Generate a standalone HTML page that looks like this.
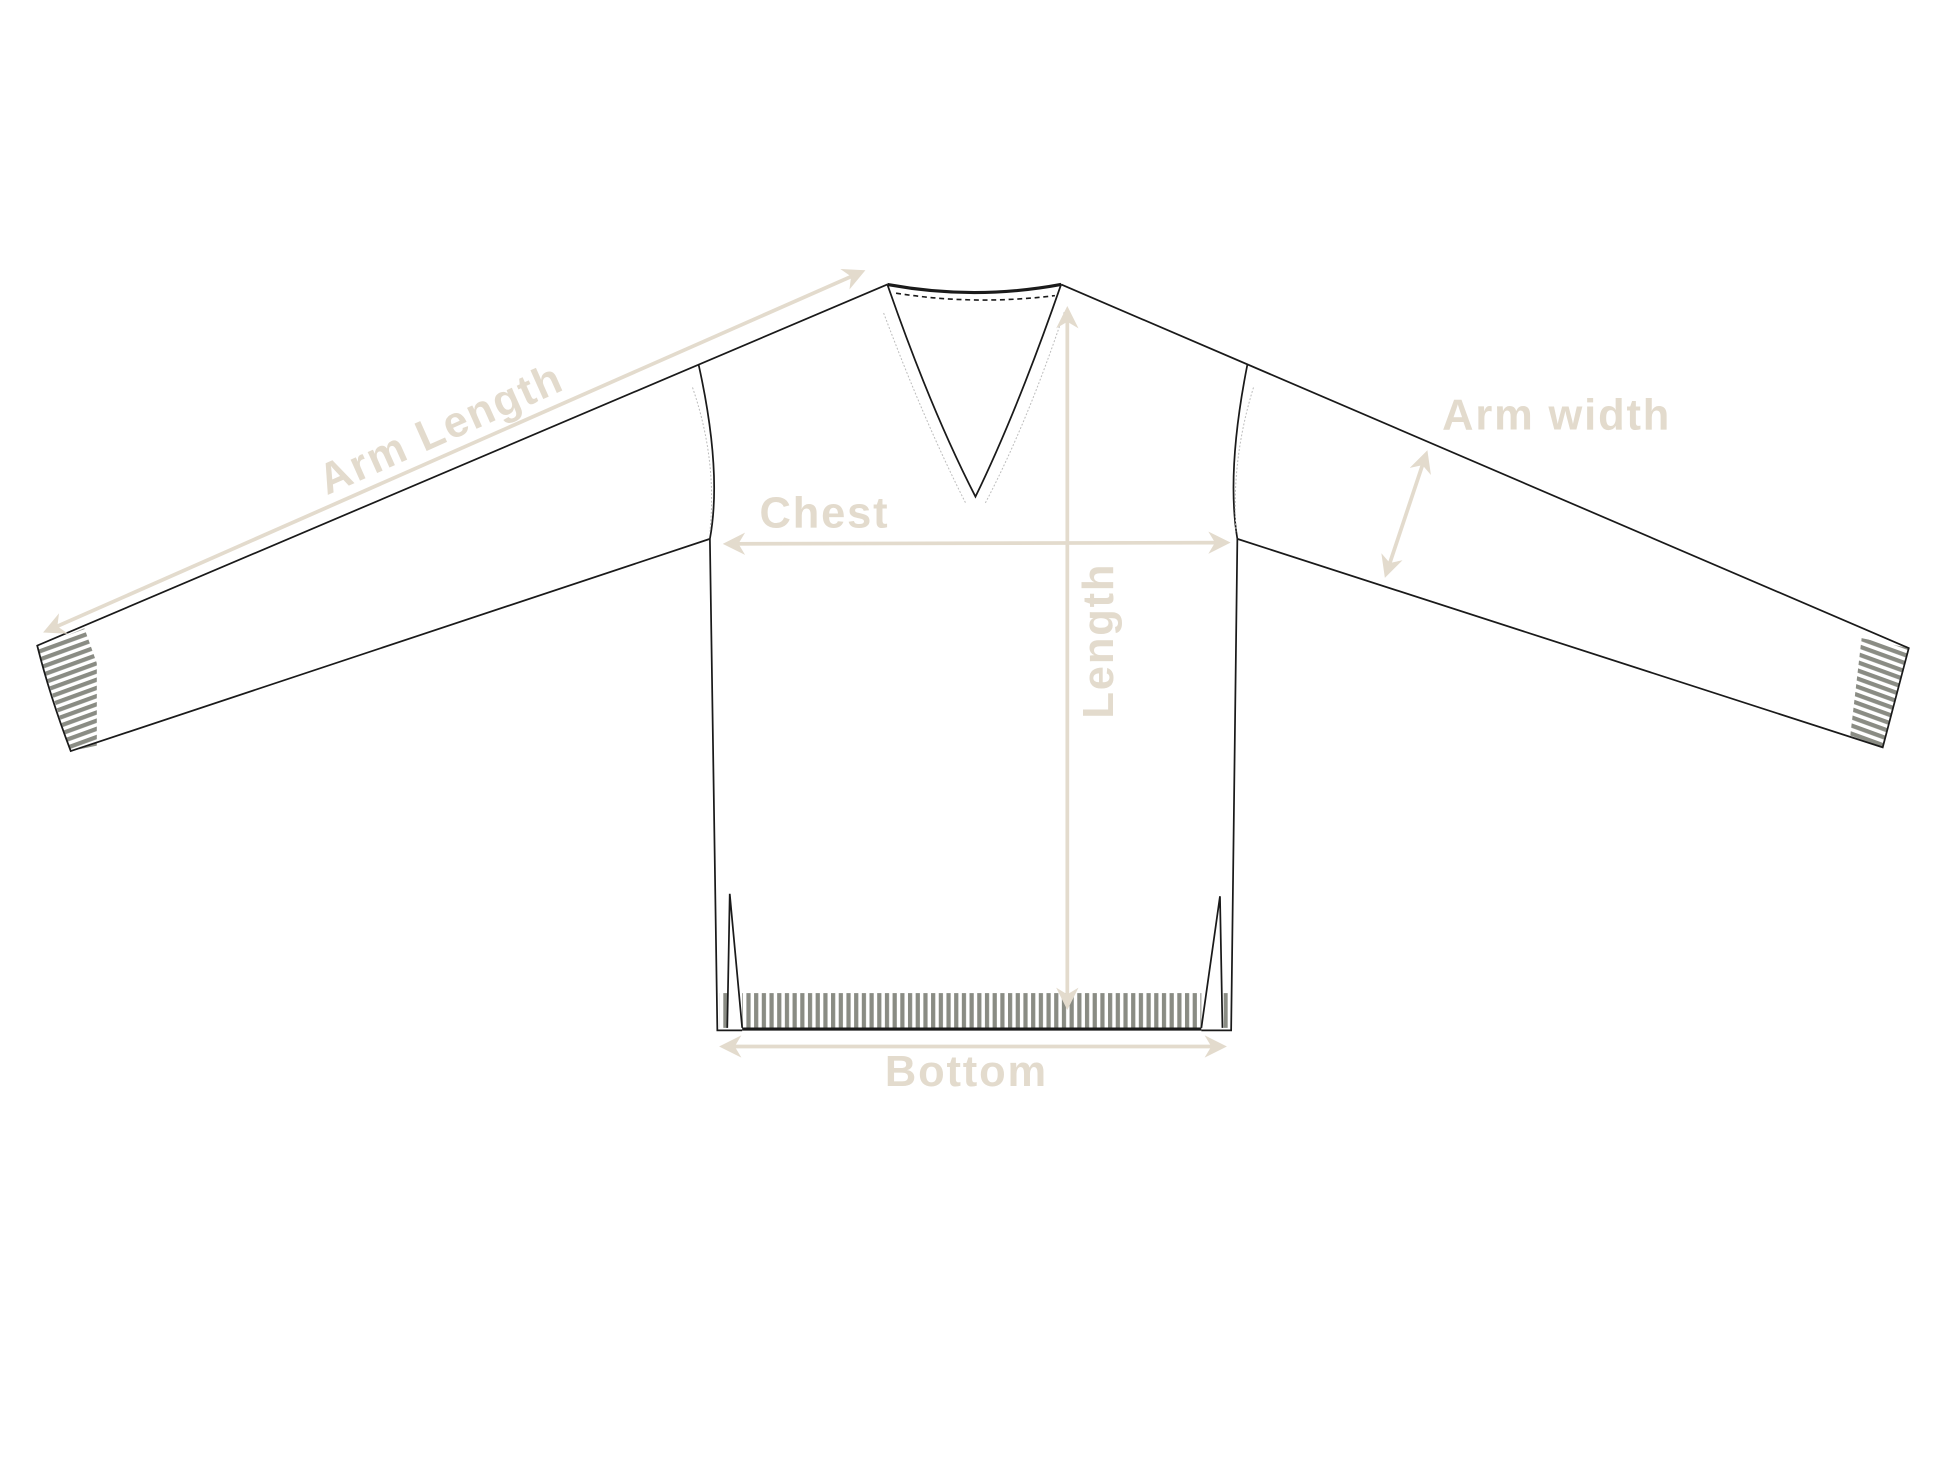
<!DOCTYPE html>
<html><head><meta charset="utf-8"><style>
html,body{margin:0;padding:0;background:#fff;}
svg{display:block;}
text{font-family:"Liberation Sans",sans-serif;font-weight:bold;fill:#e3dbcd;letter-spacing:1.5px;}
</style></head><body>
<svg width="1946" height="1460" viewBox="0 0 1568 1176" xmlns="http://www.w3.org/2000/svg">
<defs>
<pattern id="vs" width="6.2" height="10" patternUnits="userSpaceOnUse"><rect x="0" y="0" width="3.4" height="10" fill="#8a8c84"/></pattern>
<pattern id="hsl" width="10" height="6.2" patternUnits="userSpaceOnUse" patternTransform="rotate(-20)"><rect x="0" y="0" width="10" height="3.4" fill="#8a8c84"/></pattern>
<pattern id="hsr" width="10" height="6.2" patternUnits="userSpaceOnUse" patternTransform="rotate(20)"><rect x="0" y="0" width="10" height="3.4" fill="#8a8c84"/></pattern>
<marker id="ah" viewBox="0 0 10 10" refX="8" refY="5" markerWidth="6" markerHeight="6" orient="auto-start-reverse"><path d="M0,0 L10,5 L0,10 L3,5 Z" fill="#e3dbcd"/></marker>
</defs>
<polygon points="30,522 68,506 100,596 57,605" fill="url(#hsl)"/>
<polygon points="1500,514 1538,522 1517,602 1486,593" fill="url(#hsr)"/>
<polygon points="68,506 110,490 110,620 78,620 78,506" fill="#fff"/>
<polygon points="1500,514 1480,500 1470,600 1490,600" fill="#fff"/>
<rect x="598" y="800" width="370" height="28" fill="url(#vs)"/>
<rect x="580" y="800" width="6" height="28" fill="url(#vs)"/>
<rect x="986" y="800" width="6" height="28" fill="url(#vs)"/>
<g fill="none" stroke="#1a1a1a" stroke-width="1.4">
<path d="M715,229 L30,520 Q40,560 57,605 L572,434"/>
<path d="M855,229 L1538,522 Q1528,560 1517,602 L997,434"/>
<path d="M563,294 Q582,380 572,434"/>
<path d="M1005,294 Q988,380 997,434"/>
<path d="M572,434 L578,830 L598,830"/>
<path d="M997,434 L992,830 L968,830"/>
<path d="M586,828 L588,720 L598,828"/>
<path d="M985,828 L983,722 L968,828"/>
<path d="M715,229 Q750,330 786,400 Q820,330 855,229"/>
</g>
<path d="M598,829 L968,829" stroke="#1a1a1a" stroke-width="2.5"/>
<path d="M715,229 Q785,242 855,229" stroke="#1a1a1a" stroke-width="2.5" fill="none"/>
<path d="M722,236 Q785,246 850,238" stroke="#1a1a1a" stroke-width="1.3" stroke-dasharray="4,3" fill="none"/>
<g fill="none" stroke="#bbb" stroke-width="0.8" stroke-dasharray="1.5,1.5">
<path d="M712,252 Q745,340 778,405"/><path d="M794,405 Q828,340 858,250"/>
<path d="M558,312 Q578,370 572,428"/><path d="M1010,312 Q992,370 996,428"/>
</g>
<g stroke="#e3dbcd" stroke-width="3" marker-start="url(#ah)" marker-end="url(#ah)">
<line x1="38" y1="508" x2="694" y2="219"/>
<line x1="586" y1="438" x2="988" y2="437"/>
<line x1="860" y1="250" x2="860" y2="810"/>
<line x1="583" y1="843" x2="985" y2="843"/>
<line x1="1149" y1="366" x2="1117" y2="462"/>
</g>
<text x="355" y="357" font-size="35" text-anchor="middle" transform="rotate(-24 355 345)">Arm Length</text>
<text x="612" y="425" font-size="35">Chest</text>
<text x="1162" y="346" font-size="35">Arm width</text>
<text x="713" y="875" font-size="35">Bottom</text>
<text x="0" y="0" font-size="35" text-anchor="middle" transform="translate(897 516) rotate(-90)">Length</text>
</svg>
</body></html>
